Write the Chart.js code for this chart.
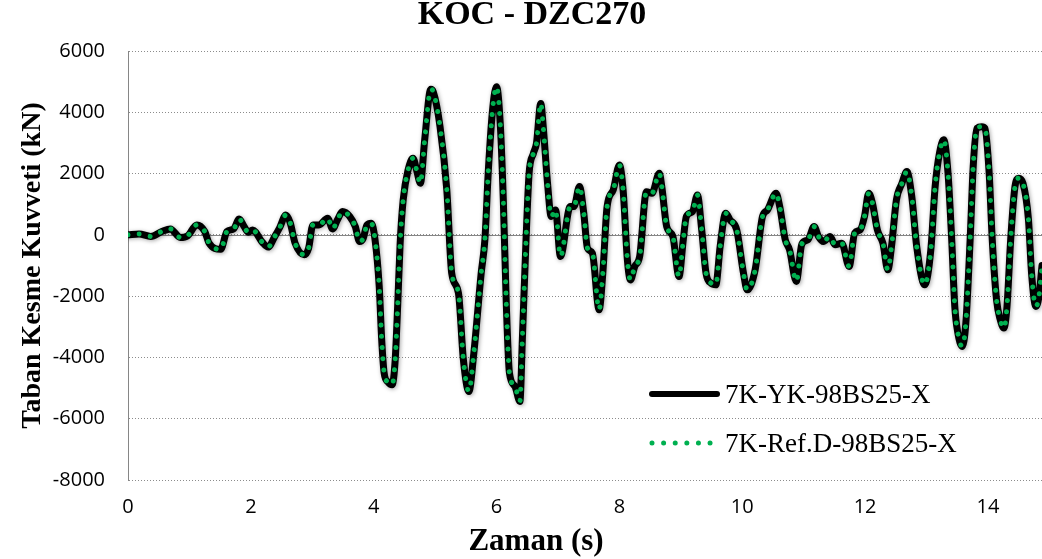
<!DOCTYPE html>
<html>
<head>
<meta charset="utf-8">
<title>KOC - DZC270</title>
<script src="https://cdn.jsdelivr.net/npm/chart.js@4.4.1/dist/chart.umd.min.js"></script>
<style>
  body { margin: 0; background: #fff; }
  #wrap { width: 1042px; height: 559px; }
</style>
</head>
<body>
<div id="wrap"><canvas id="chart" width="1042" height="559"></canvas></div>
<script>
// Time (s)
var zaman = [
  0.00, 0.18, 0.37, 0.55, 0.69, 0.85, 0.97, 1.12, 1.25, 1.32, 1.51, 1.61, 1.72, 1.81, 1.89, 1.96,
  2.03, 2.19, 2.28, 2.39, 2.47, 2.57, 2.64, 2.72, 2.87, 2.94, 3.01, 3.11, 3.25, 3.33, 3.41, 3.49,
  3.61, 3.70, 3.77, 3.83, 3.89, 3.96, 4.02, 4.09, 4.13, 4.17, 4.23, 4.30, 4.35, 4.39, 4.43, 4.48,
  4.56, 4.64, 4.70, 4.76, 4.83, 4.93, 4.97, 5.08, 5.19, 5.27, 5.38, 5.46, 5.55, 5.63, 5.75, 5.81,
  5.87, 5.94, 6.00, 6.06, 6.11, 6.16, 6.21, 6.30, 6.38, 6.42, 6.48, 6.53, 6.60, 6.65, 6.72, 6.76,
  6.83, 6.89, 6.96, 7.04, 7.20, 7.26, 7.35, 7.42, 7.48, 7.56, 7.67, 7.73, 7.80, 7.90, 8.00, 8.06,
  8.13, 8.18, 8.25, 8.33, 8.44, 8.53, 8.65, 8.69, 8.77, 8.87, 8.97, 9.04, 9.09, 9.19, 9.27, 9.34,
  9.41, 9.49, 9.57, 9.64, 9.73, 9.80, 9.91, 10.02, 10.08, 10.21, 10.33, 10.41, 10.55, 10.61, 10.70, 10.77,
  10.88, 10.97, 11.07, 11.17, 11.24, 11.32, 11.43, 11.51, 11.62, 11.74, 11.83, 11.92, 11.99, 12.06, 12.12, 12.20,
  12.29, 12.37, 12.43, 12.51, 12.60, 12.68, 12.76, 12.84, 12.97, 13.07, 13.14, 13.21, 13.28, 13.35, 13.41, 13.46,
  13.51, 13.58, 13.64, 13.71, 13.76, 13.82, 13.90, 13.95, 14.02, 14.07, 14.14, 14.20, 14.26, 14.31, 14.37, 14.44,
  14.50, 14.57, 14.66, 14.71, 14.78, 14.83, 14.88
];

// Base shear (kN), 7K-YK-98BS25-X
var ykSeries = [
  0, 30, -50, 110, 195, -85, -30, 325, 110, -270, -470, 110, 195, 520, 270, 85,
  160, -250, -400, -50, 240, 650, 400, -270, -650, -435, 325, 325, 545, 195, 490, 760,
  600, 270, -220, -110, 325, 380, -130, -1685, -3420, -4510, -4800, -4890, -4075, -2335, -300, 1140,
  2120, 2500, 2100, 1685, 3100, 4750, 4670, 3530, 1470, -1250, -1900, -4075, -5110, -3860, -1250, -160,
  2230, 4180, 4835, 3640, 1140, -2335, -4510, -4945, -5435, -3420, -160, 2010, 2660, 2990, 4290, 3530,
  1685, 600, 815, -705, 925, 925, 1575, 705, -435, -600, -2445, -1250, 925, 1470, 2280, 1470,
  -815, -1470, -1030, -705, 1410, 1360, 2010, 1575, 270, -50, -1360, -160, 600, 760, 1300, 160,
  -1250, -1575, -1630, -380, 705, 490, 160, -1250, -1795, -1140, 600, 815, 1360, 925, -160, -490,
  -1520, -300, -160, 270, -50, -220, -50, -325, -270, -1030, 55, 160, 600, 1360, 1030, 160,
  -270, -1140, -380, 1140, 1685, 2065, 1250, -380, -1630, -490, 1575, 2660, 3100, 2010, -160, -2335,
  -3200, -3640, -2880, -160, 2230, 3480, 3530, 3480, 2010, -160, -2120, -2770, -3040, -2335, -160, 1575,
  1850, 1685, 490, -1250, -2335, -2010, -1000
];

// Base shear (kN), 7K-Ref.D-98BS25-X (lies on top of the first curve)
var refSeries = [
  0, 30, -50, 110, 195, -85, -30, 325, 110, -270, -470, 110, 195, 520, 270, 85,
  160, -250, -400, -50, 240, 650, 400, -270, -650, -435, 325, 325, 545, 195, 490, 760,
  600, 270, -220, -110, 325, 380, -130, -1685, -3420, -4510, -4800, -4890, -4075, -2335, -300, 1140,
  2120, 2500, 2100, 1685, 3100, 4750, 4670, 3530, 1470, -1250, -1900, -4075, -5110, -3860, -1250, -160,
  2230, 4180, 4835, 3640, 1140, -2335, -4510, -4945, -5435, -3420, -160, 2010, 2660, 2990, 4290, 3530,
  1685, 600, 815, -705, 925, 925, 1575, 705, -435, -600, -2445, -1250, 925, 1470, 2280, 1470,
  -815, -1470, -1030, -705, 1410, 1360, 2010, 1575, 270, -50, -1360, -160, 600, 760, 1300, 160,
  -1250, -1575, -1630, -380, 705, 490, 160, -1250, -1795, -1140, 600, 815, 1360, 925, -160, -490,
  -1520, -300, -160, 270, -50, -220, -50, -325, -270, -1030, 55, 160, 600, 1360, 1030, 160,
  -270, -1140, -380, 1140, 1685, 2065, 1250, -380, -1630, -490, 1575, 2660, 3100, 2010, -160, -2335,
  -3200, -3640, -2880, -160, 2230, 3480, 3530, 3480, 2010, -160, -2120, -2770, -3040, -2335, -160, 1575,
  1850, 1685, 490, -1250, -2335, -2010, -1000
];

var seriesNames = ['7K-YK-98BS25-X', '7K-Ref.D-98BS25-X'];
var xTicks = [0, 2, 4, 6, 8, 10, 12, 14];
var yTicks = [-8000, -6000, -4000, -2000, 0, 2000, 4000, 6000];

var chartTitle = 'KOC - DZC270';
var xTitle = 'Zaman (s)';
var yTitle = 'Taban Kesme Kuvveti (kN)';

var serif = '"Liberation Serif", "Times New Roman", serif';
var sans = '"Open Sans", "Liberation Sans", sans-serif';

function toPoints(xs, ys) {
  return xs.map(function(x, i) { return {x: x, y: ys[i]}; });
}

// solid zero line, drawn under the curves
var zeroLine = {
  id: 'zeroLine',
  beforeDatasetsDraw: function(chart) {
    var ctx = chart.ctx, a = chart.chartArea;
    var y = chart.scales.y.getPixelForValue(0);
    ctx.save();
    ctx.strokeStyle = '#868686';
    ctx.lineWidth = 1;
    ctx.beginPath();
    ctx.moveTo(a.left, Math.round(y) + 0.5);
    ctx.lineTo(a.right, Math.round(y) + 0.5);
    ctx.stroke();
    ctx.restore();
  }
};

// soft shadow under the black curve, like Excel
var lineShadow = {
  id: 'lineShadow',
  beforeDatasetDraw: function(chart, args) {
    if (args.index !== 0) return;
    var ctx = chart.ctx;
    ctx.save();
    ctx.shadowColor = 'rgba(0,0,0,0.35)';
    ctx.shadowBlur = 4;
    ctx.shadowOffsetX = 1;
    ctx.shadowOffsetY = 1;
  },
  afterDatasetDraw: function(chart, args) {
    if (args.index !== 0) return;
    chart.ctx.restore();
  }
};

// chart title, x axis title and the legend inside the plot
var texts = {
  id: 'texts',
  afterDraw: function(chart) {
    var ctx = chart.ctx;
    var ds = chart.data.datasets;
    ctx.save();
    ctx.fillStyle = '#000';
    ctx.textAlign = 'center';
    ctx.textBaseline = 'alphabetic';
    ctx.font = 'bold 34px ' + serif;
    ctx.fillText(chartTitle, 532, 24);
    ctx.font = 'bold 31px ' + serif;
    ctx.fillText(xTitle, 536, 550);

    // legend
    ctx.textAlign = 'left';
    ctx.font = '27px ' + serif;
    ctx.lineCap = 'round';
    ctx.strokeStyle = ds[0].borderColor;
    ctx.lineWidth = 6;
    ctx.beginPath();
    ctx.moveTo(652, 394);
    ctx.lineTo(717, 394);
    ctx.stroke();
    ctx.fillText(ds[0].label, 725, 403);

    ctx.strokeStyle = ds[1].borderColor;
    ctx.lineWidth = 5;
    ctx.setLineDash([0.01, 11.6]);
    ctx.beginPath();
    ctx.moveTo(652, 443);
    ctx.lineTo(712, 443);
    ctx.stroke();
    ctx.setLineDash([]);
    ctx.fillText(ds[1].label, 725, 452);
    ctx.restore();
  }
};

var chart = new Chart('chart', {
  type: 'line',
  data: {
    datasets: [
      {
        label: seriesNames[0],
        data: toPoints(zaman, ykSeries),
        borderColor: '#000000',
        borderWidth: 7,
        borderCapStyle: 'round',
        borderJoinStyle: 'round',
        pointRadius: 0,
        cubicInterpolationMode: 'monotone',
        order: 1
      },
      {
        label: seriesNames[1],
        data: toPoints(zaman, refSeries),
        borderColor: '#00B050',
        borderWidth: 5,
        borderCapStyle: 'round',
        borderJoinStyle: 'round',
        borderDash: [0.01, 11.2],
        pointRadius: 0,
        cubicInterpolationMode: 'monotone',
        order: 0
      }
    ]
  },
  options: {
    responsive: false,
    animation: false,
    layout: { padding: { top: 51, left: 0, right: 0, bottom: 0 } },
    plugins: {
      legend: { display: false },
      title: { display: false },
      tooltip: { enabled: false }
    },
    scales: {
      x: {
        type: 'linear',
        min: 0,
        max: 14.88,
        afterBuildTicks: function(scale) {
          scale.ticks = xTicks.map(function(v) { return {value: v}; });
        },
        afterFit: function(scale) { scale.height = 79; },
        grid: { display: false, drawTicks: false },
        border: { display: false },
        ticks: {
          autoSkip: false,
          maxRotation: 0,
          padding: 15,
          color: '#000',
          font: { family: sans, size: 20 }
        }
      },
      y: {
        min: -8000,
        max: 6000,
        afterBuildTicks: function(scale) {
          scale.ticks = yTicks.map(function(v) { return {value: v}; });
        },
        afterFit: function(scale) { scale.width = 128; },
        grid: { color: '#8c8c8c', lineWidth: 1, drawTicks: false },
        border: { display: true, color: '#868686', width: 1, dash: [1, 2] },
        ticks: {
          padding: 23,
          color: '#000',
          font: { family: sans, size: 20 },
          callback: function(v) { return String(v); }
        },
        title: {
          display: true,
          text: yTitle,
          color: '#000',
          padding: { top: 16, bottom: 0 },
          font: { family: serif, size: 28, weight: 'bold' }
        }
      }
    }
  },
  plugins: [zeroLine, lineShadow, texts]
});
</script>
</body>
</html>
